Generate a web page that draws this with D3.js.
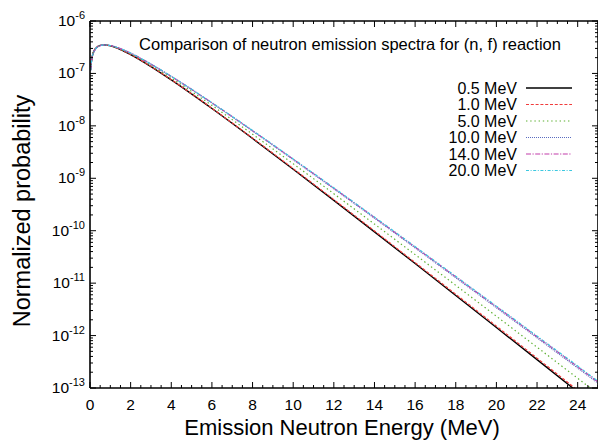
<!DOCTYPE html>
<html><head><meta charset="utf-8">
<script src="https://cdn.jsdelivr.net/npm/d3@7"></script>
<style>html,body{margin:0;padding:0;background:#fff;}svg{display:block;font-family:"Liberation Sans",Arial,Helvetica,sans-serif;}</style>
</head><body><svg id="c" width="598" height="441"></svg>
<script>
const energy = [0.03, 0.1, 0.25, 0.5, 0.7, 1, 1.5, 2, 3, 4, 6, 8, 10, 12, 14, 16, 18, 20, 22, 24, 25];
const s05  = [1.181e-7, 2.049e-7, 2.904e-7, 3.421e-7, 3.498e-7, 3.360e-7, 2.857e-7, 2.290e-7, 1.352e-7, 7.52e-8, 2.140e-8, 5.74e-9, 1.490e-9, 3.792e-10, 9.51e-11, 2.363e-11, 5.82e-12, 1.425e-12, 3.471e-13, 8.42e-14, 4.14e-14];
const s10  = [1.180e-7, 2.047e-7, 2.901e-7, 3.419e-7, 3.498e-7, 3.363e-7, 2.863e-7, 2.298e-7, 1.360e-7, 7.587e-8, 2.170e-8, 5.851e-9, 1.528e-9, 3.915e-10, 9.874e-11, 2.465e-11, 6.137e-12, 1.513e-12, 3.707e-13, 9.054e-14, 4.469e-14];
const s50  = [1.161e-7, 2.018e-7, 2.871e-7, 3.404e-7, 3.498e-7, 3.386e-7, 2.915e-7, 2.367e-7, 1.434e-7, 8.187e-8, 2.452e-8, 6.922e-9, 1.893e-9, 5.070e-10, 1.339e-10, 3.500e-11, 9.079e-12, 2.340e-12, 6.003e-13, 1.532e-13, 7.735e-14];
const s100 = [1.146e-7, 1.994e-7, 2.845e-7, 3.390e-7, 3.497e-7, 3.404e-7, 2.960e-7, 2.427e-7, 1.499e-7, 8.722e-8, 2.715e-8, 7.967e-9, 2.264e-9, 6.303e-10, 1.730e-10, 4.700e-11, 1.267e-11, 3.395e-12, 9.048e-13, 2.402e-13, 1.236e-13];
const s140 = [1.144e-7, 1.991e-7, 2.842e-7, 3.388e-7, 3.497e-7, 3.406e-7, 2.965e-7, 2.434e-7, 1.507e-7, 8.789e-8, 2.749e-8, 8.103e-9, 2.313e-9, 6.470e-10, 1.784e-10, 4.870e-11, 1.319e-11, 3.550e-12, 9.506e-13, 2.535e-13, 1.307e-13];
const s200 = [1.143e-7, 1.989e-7, 2.840e-7, 3.387e-7, 3.496e-7, 3.407e-7, 2.968e-7, 2.438e-7, 1.511e-7, 8.830e-8, 2.769e-8, 8.186e-9, 2.343e-9, 6.573e-10, 1.818e-10, 4.976e-11, 1.351e-11, 3.647e-12, 9.794e-13, 2.619e-13, 1.353e-13];
const seriesLabels = ["0.5 MeV", "1.0 MeV", "5.0 MeV", "10.0 MeV", "14.0 MeV", "20.0 MeV"];
const xTicks = [0, 2, 4, 6, 8, 10, 12, 14, 16, 18, 20, 22, 24];
const yExponents = [-6, -7, -8, -9, -10, -11, -12, -13];
const titleText = "Comparison of neutron emission spectra for (n, f) reaction";
const xLabel = "Emission Neutron Energy (MeV)";
const yLabel = "Normalized probability";

const seriesValues = [s05, s10, s50, s100, s140, s200];
const styles = [
  {color: "#000000", dash: null, w: 1.4},
  {color: "#f03c3c", dash: "3,1.8", w: 1.2},
  {color: "#5cb030", dash: "1.4,2.8", w: 1.2},
  {color: "#5a6cc0", dash: "1,1", w: 1.2},
  {color: "#c23caa", dash: "5,1.5,1.2,1.5", w: 1.2},
  {color: "#3cc8e0", dash: "3,1.6,1,1.6", w: 1.2}
];

const svg = d3.select("#c");
const L = 90, R = 598, T = 21, B = 388;
const x = d3.scaleLinear().domain([0, 25]).range([L, R]);
const y = d3.scaleLog().domain([1e-13, 1e-6]).range([B, T]);

svg.append("clipPath").attr("id", "clip").append("rect")
  .attr("x", L).attr("y", T).attr("width", R - L).attr("height", B - T);

// curves
const line = d3.line().x((d, i) => x(energy[i])).y(d => y(d)).curve(d3.curveMonotoneX);
const g = svg.append("g").attr("clip-path", "url(#clip)");
seriesValues.forEach((vals, k) => {
  g.append("path").attr("d", line(vals)).attr("fill", "none")
    .attr("stroke", styles[k].color).attr("stroke-width", styles[k].w)
    .attr("stroke-dasharray", styles[k].dash);
});

// axes (ticks inward on all four sides)
const ax = svg.append("g").attr("stroke", "#000");
const minorX = d3.range(0, 25.01, 0.5);
minorX.forEach(v => {
  const major = Math.abs(v / 2 - Math.round(v / 2)) < 1e-9;
  const len = major ? 6 : 3;
  ax.append("line").attr("x1", x(v)).attr("x2", x(v)).attr("y1", B).attr("y2", B - len).attr("stroke-width", 1);
  ax.append("line").attr("x1", x(v)).attr("x2", x(v)).attr("y1", T).attr("y2", T + len).attr("stroke-width", 1);
});
const yTickVals = [];
yExponents.forEach(e => {
  for (let m = 1; m <= 9; m++) {
    const v = m * Math.pow(10, e);
    if (v >= 1e-13 * 0.999 && v <= 1e-6 * 1.001) yTickVals.push({v, major: m === 1});
  }
});
yTickVals.forEach(t => {
  const len = t.major ? 6 : 3;
  const yy = y(t.v);
  ax.append("line").attr("x1", L).attr("x2", L + len).attr("y1", yy).attr("y2", yy).attr("stroke-width", 1);
  ax.append("line").attr("x1", R).attr("x2", R - len).attr("y1", yy).attr("y2", yy).attr("stroke-width", 1);
});
ax.append("path").attr("fill", "none").attr("stroke-width", 1.6)
  .attr("d", `M${L},${T}H${R}M${L},${B}H${R}M${L},${T}V${B}M${R},${T}V${B}`);

// x tick labels
svg.append("g").selectAll("text").data(xTicks).join("text")
  .attr("x", d => x(d)).attr("y", 410).attr("text-anchor", "middle")
  .attr("font-size", 15.5).attr("fill", "#000").text(d => d);

// y tick labels
const yl = svg.append("g").selectAll("text").data(yExponents).join("text")
  .attr("x", 85).attr("y", d => y(Math.pow(10, d)) + 5).attr("text-anchor", "end")
  .attr("font-size", 15.5).attr("fill", "#000");
yl.append("tspan").text("10");
yl.append("tspan").attr("dy", -7).attr("font-size", 11).text(d => d);

// title
svg.append("text").attr("x", 350).attr("y", 50).attr("text-anchor", "middle")
  .attr("font-size", 16.5).attr("fill", "#000").text(titleText);

// legend
seriesLabels.forEach((lab, k) => {
  const yy = 88 + k * 16.5;
  svg.append("text").attr("x", 517).attr("y", yy + 5.5).attr("text-anchor", "end")
    .attr("font-size", 16).attr("fill", "#000").text(lab);
  svg.append("line").attr("x1", 526).attr("x2", 572).attr("y1", yy).attr("y2", yy)
    .attr("stroke", styles[k].color).attr("stroke-width", styles[k].w)
    .attr("stroke-dasharray", styles[k].dash);
});

// axis titles
svg.append("text").attr("x", 342).attr("y", 435).attr("text-anchor", "middle")
  .attr("font-size", 22).attr("fill", "#000").text(xLabel);
svg.append("text").attr("transform", "translate(30,211) rotate(-90)").attr("text-anchor", "middle")
  .attr("font-size", 23.5).attr("fill", "#000").text(yLabel);
</script></body></html>
